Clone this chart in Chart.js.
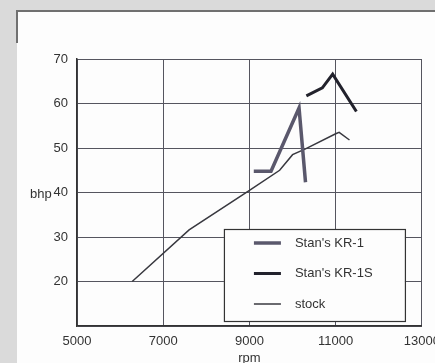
<!DOCTYPE html>
<html lang="en">
<head>
    <meta charset="UTF-8">
    <title>bhp vs rpm</title>
    <script src="https://cdn.jsdelivr.net/npm/chart.js"></script>
    <style>
        html, body {
            margin: 0;
            padding: 0;
            width: 435px;
            height: 363px;
            overflow: hidden;
            background-color: #dadada;
        }

        /* scanned page look: white sheet with a dark edge on top */
        .sheet {
            position: absolute;
            left: 17px;
            top: 10px;
            width: 430px;
            height: 360px;
            background-color: #fdfdfd;
            border-top: 2px solid #707070;
        }

        .sheet-edge {
            position: absolute;
            left: 16px;
            top: 10px;
            width: 2px;
            height: 33px;
            background-color: #707070;
        }

        .chart-box {
            position: absolute;
            left: 0;
            top: 0;
            width: 448px;
            height: 363px;
        }
    </style>
</head>
<body>

    <div class="sheet"></div>
    <div class="sheet-edge"></div>
    <div class="chart-box">
        <canvas id="bhp-chart" width="448" height="363"></canvas>
    </div>

    <script>
        // Axis ticks
        const rpmTicks = [5000, 7000, 9000, 11000, 13000];
        const bhpTicks = [10, 20, 30, 40, 50, 60, 70];

        // Series
        const rpmKR1 = [9100, 9500, 10150, 10300];
        const bhpKR1 = [44.8, 44.8, 59, 42.3];

        const rpmKR1S = [10320, 10690, 10930, 11480];
        const bhpKR1S = [61.7, 63.5, 66.6, 58.2];

        const rpmStock = [6280, 7600, 9000, 9700, 10000, 10300, 11000, 11080, 11320];
        const bhpStock = [20, 31.6, 40.5, 45, 48.5, 49.8, 53.2, 53.5, 51.8];

        const seriesNames = ["Stan's KR-1", "Stan's KR-1S", 'stock'];

        const fontFamily = '"Liberation Sans", Arial, sans-serif';
        const textColor = '#333333';
        const gridColor = '#55555f';

        function toPoints(xs, ys) {
            return xs.map((x, i) => ({ x: x, y: ys[i] }));
        }

        // Legend box sitting inside the plot, bottom right
        const boxLegend = {
            id: 'boxLegend',
            afterDatasetsDraw(chart) {
                const ctx = chart.ctx;
                const area = chart.chartArea;
                const w = 181, h = 92;
                const left = area.right - 17 - w;
                const top = area.bottom - 5 - h;

                ctx.save();
                ctx.fillStyle = '#fdfdfd';
                ctx.fillRect(left, top, w, h);
                ctx.strokeStyle = '#333';
                ctx.lineWidth = 1.2;
                ctx.strokeRect(left + 0.5, top + 0.5, w, h);

                ctx.font = '13px ' + fontFamily;
                ctx.textBaseline = 'middle';
                ctx.textAlign = 'left';
                chart.data.datasets.forEach((ds, i) => {
                    const y = top + 14 + i * 30.5;
                    ctx.strokeStyle = ds.borderColor;
                    ctx.lineWidth = ds.borderWidth;
                    ctx.beginPath();
                    ctx.moveTo(left + 30, y);
                    ctx.lineTo(left + 57, y);
                    ctx.stroke();
                    ctx.fillStyle = textColor;
                    ctx.fillText(ds.label, left + 71, y);
                });
                ctx.restore();
            }
        };

        // Horizontal "bhp" label next to the 40 tick
        const bhpLabel = {
            id: 'bhpLabel',
            afterDraw(chart) {
                const ctx = chart.ctx;
                const y = chart.scales.y.getPixelForValue(40);
                ctx.save();
                ctx.font = '13px ' + fontFamily;
                ctx.fillStyle = textColor;
                ctx.textAlign = 'left';
                ctx.textBaseline = 'middle';
                ctx.fillText('bhp', 30, y + 2);
                ctx.restore();
            }
        };

        const ctx = document.getElementById('bhp-chart').getContext('2d');
        const bhpChart = new Chart(ctx, {
            type: 'line',
            data: {
                datasets: [{
                    label: seriesNames[0],
                    data: toPoints(rpmKR1, bhpKR1),
                    borderColor: '#5a586c',
                    borderWidth: 3.5
                },
                {
                    label: seriesNames[1],
                    data: toPoints(rpmKR1S, bhpKR1S),
                    borderColor: '#22222c',
                    borderWidth: 3
                },
                {
                    label: seriesNames[2],
                    data: toPoints(rpmStock, bhpStock),
                    borderColor: '#38383f',
                    borderWidth: 1.5
                }]
            },
            options: {
                responsive: false,
                animation: false,
                devicePixelRatio: 1,
                layout: {
                    padding: { left: 0, top: 59, right: 21, bottom: 0 }
                },
                elements: {
                    point: { radius: 0 },
                    line: { tension: 0, fill: false }
                },
                scales: {
                    x: {
                        type: 'linear',
                        min: rpmTicks[0],
                        max: rpmTicks[rpmTicks.length - 1],
                        afterBuildTicks: (scale) => { scale.ticks = rpmTicks.map(v => ({ value: v })); },
                        afterFit: (scale) => { scale.height = 37; },
                        grid: { color: gridColor, lineWidth: 1, drawTicks: false },
                        border: { color: '#333', width: 1.5 },
                        ticks: {
                            padding: 8,
                            maxRotation: 0,
                            color: textColor,
                            font: { family: fontFamily, size: 13 },
                            callback: (v) => String(v)
                        },
                        title: {
                            display: true,
                            text: 'rpm',
                            color: textColor,
                            padding: { top: 0, bottom: -3 },
                            font: { family: fontFamily, size: 13 }
                        }
                    },
                    y: {
                        min: bhpTicks[0],
                        max: bhpTicks[bhpTicks.length - 1],
                        afterBuildTicks: (scale) => { scale.ticks = bhpTicks.map(v => ({ value: v })); },
                        afterFit: (scale) => { scale.width = 77; },
                        grid: { color: gridColor, lineWidth: 1, drawTicks: false },
                        border: { color: '#333', width: 1.5 },
                        ticks: {
                            padding: 9,
                            color: textColor,
                            font: { family: fontFamily, size: 13 },
                            callback: (v) => (v === bhpTicks[0] ? '' : String(v))
                        }
                    }
                },
                plugins: {
                    legend: { display: false },
                    tooltip: { enabled: false }
                }
            },
            plugins: [boxLegend, bhpLabel]
        });
    </script>

</body>
</html>
